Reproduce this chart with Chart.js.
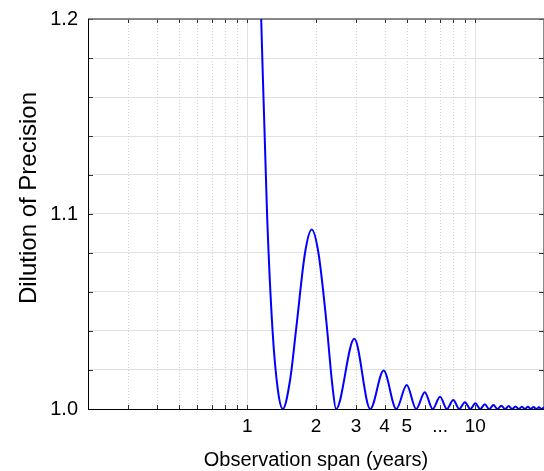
<!DOCTYPE html>
<html lang="en">
<head>
  <meta charset="UTF-8">
  <title>Dilution of Precision</title>
  <script src="https://cdn.jsdelivr.net/npm/chart.js"></script>
  <style>
    body {
      margin: 0;
      background-color: #fff;
    }

    #wrap {
      width: 544px;
      height: 471px;
    }
  </style>
</head>
<body>
  <div id="wrap"><canvas id="dopChart" width="544" height="471"></canvas></div>

  <script>
    // values (peaks and troughs of the curve)
    const spanYears = [
      1.10, 1.15, 1.22, 1.29, 1.36, 1.43, 1.54, 1.64, 1.79, 1.915,
      2.05, 2.22, 2.36, 2.45, 2.945, 3.46, 3.96, 4.50, 5.00, 5.50,
      6.00, 6.50, 7.00, 7.50, 8.00, 8.50, 9.00, 9.50, 10.0, 10.5,
      11.0, 11.5, 12.0, 12.5, 13.0, 13.5, 14.0, 14.5, 15.0, 15.5,
      16.0, 16.5, 17.0, 17.5, 18.0, 18.5, 19.0, 19.5, 20.0
    ];
    const dop = [
      1.280, 1.200, 1.100, 1.040, 1.010, 1.000, 1.015, 1.042, 1.080, 1.092,
      1.080, 1.045, 1.012, 1.000, 1.036, 1.000, 1.0197, 1.000, 1.0123, 1.000,
      1.0086, 1.000, 1.0063, 1.000, 1.0046, 1.000, 1.0035, 1.000, 1.0029, 1.000,
      1.0024, 1.000, 1.0020, 1.000, 1.0017, 1.000, 1.0015, 1.000, 1.0013, 1.000,
      1.0012, 1.000, 1.0011, 1.000, 1.0010, 1.000, 1.0009, 1.000, 1.0008
    ];

    const xTickValues = [0.2, 0.3, 0.4, 0.5, 0.6, 0.7, 0.8, 0.9, 1, 2, 3, 4, 5, 6, 7, 8, 9, 10, 20];
    const xMajorValues = [1, 10];
    const xLabelAt = [1, 2, 3, 4, 5, 7, 10];
    const xLabelText = ['1', '2', '3', '4', '5', '...', '10'];

    const yTickValues = [1.00, 1.02, 1.04, 1.06, 1.08, 1.10, 1.12, 1.14, 1.16, 1.18, 1.20];
    const yLabelAt = [1.0, 1.1, 1.2];
    const yLabelText = ['1.0', '1.1', '1.2'];

    const FONT = '"Liberation Sans", Arial, sans-serif';

    function near(a, b) {
      return Math.abs(a - b) < 1e-6;
    }

    function labelFor(value, at, text) {
      const i = at.findIndex(a => near(a, value));
      return i >= 0 ? text[i] : '';
    }

    // box, inner ticks and dotted minor grid
    const framePlugin = {
      id: 'frame',
      beforeDatasetsDraw(chart) {
        const ctx = chart.ctx;
        const a = chart.chartArea;
        const xs = chart.scales.x;
        const ys = chart.scales.y;
        ctx.save();

        ctx.strokeStyle = '#d4d4d4';
        ctx.lineWidth = 1;
        ctx.setLineDash([1, 2]);
        xTickValues.forEach(v => {
          if (xMajorValues.some(m => near(m, v))) return;
          const px = Math.round(xs.getPixelForValue(v)) + 0.5;
          ctx.beginPath();
          ctx.moveTo(px, a.top);
          ctx.lineTo(px, a.bottom);
          ctx.stroke();
        });
        ctx.setLineDash([]);

        ctx.strokeStyle = '#333';
        ctx.lineWidth = 1;
        xTickValues.forEach(v => {
          const px = Math.round(xs.getPixelForValue(v)) + 0.5;
          ctx.beginPath();
          ctx.moveTo(px, a.top);
          ctx.lineTo(px, a.top + 4);
          ctx.moveTo(px, a.bottom);
          ctx.lineTo(px, a.bottom - 4);
          ctx.stroke();
        });
        yTickValues.forEach(v => {
          const py = Math.round(ys.getPixelForValue(v)) + 0.5;
          ctx.beginPath();
          ctx.moveTo(a.left, py);
          ctx.lineTo(a.left + 5, py);
          ctx.moveTo(a.right, py);
          ctx.lineTo(a.right - 5, py);
          ctx.stroke();
        });

        ctx.strokeStyle = '#666';
        ctx.lineWidth = 1.5;
        ctx.beginPath();
        ctx.moveTo(a.left, a.top);
        ctx.lineTo(a.right, a.top);
        ctx.lineTo(a.right, a.bottom);
        ctx.stroke();

        ctx.strokeStyle = '#000';
        ctx.lineWidth = 1;
        ctx.beginPath();
        ctx.moveTo(a.left + 0.5, a.top);
        ctx.lineTo(a.left + 0.5, a.bottom + 0.5);
        ctx.lineTo(a.right, a.bottom + 0.5);
        ctx.stroke();
        ctx.restore();
      },
      afterDraw(chart) {
        const ctx = chart.ctx;
        const a = chart.chartArea;
        ctx.save();
        ctx.fillStyle = '#000';
        ctx.textAlign = 'center';
        ctx.textBaseline = 'alphabetic';
        ctx.font = '20px ' + FONT;
        ctx.fillText('Observation span (years)', (a.left + a.right) / 2, 466);

        ctx.translate(36, 198);
        ctx.rotate(-Math.PI / 2);
        ctx.font = '24px ' + FONT;
        ctx.fillText('Dilution of Precision', 0, 0);
        ctx.restore();
      }
    };

    const ctx = document.getElementById('dopChart').getContext('2d');
    new Chart(ctx, {
      type: 'line',
      data: {
        datasets: [{
          data: spanYears.map((x, i) => ({ x: x, y: dop[i] })),
          borderColor: '#0000ff',
          borderWidth: 2,
          pointRadius: 0,
          fill: false,
          cubicInterpolationMode: 'monotone'
        }]
      },
      options: {
        responsive: false,
        animation: false,
        devicePixelRatio: 1,
        layout: { padding: { top: 19, right: 0, left: 0, bottom: 0 } },
        plugins: {
          legend: { display: false },
          tooltip: { enabled: false }
        },
        scales: {
          x: {
            type: 'logarithmic',
            min: 0.2,
            max: 20,
            afterBuildTicks: scale => {
              scale.ticks = xTickValues.map(v => ({ value: v }));
            },
            afterFit: scale => {
              scale.height = 62;
              scale.paddingLeft = 0;
              scale.paddingRight = 0;
            },
            ticks: {
              autoSkip: false,
              maxRotation: 0,
              padding: 6,
              color: '#000',
              font: { family: FONT, size: 19 },
              callback: value => labelFor(value, xLabelAt, xLabelText)
            },
            grid: {
              drawTicks: false,
              color: c => (c.tick && xMajorValues.some(m => near(m, c.tick.value))) ? '#e2e2e2' : 'rgba(0,0,0,0)',
              lineWidth: 1
            },
            border: { display: false }
          },
          y: {
            type: 'linear',
            min: 1.0,
            max: 1.2,
            afterBuildTicks: scale => {
              scale.ticks = yTickValues.map(v => ({ value: v }));
            },
            afterFit: scale => {
              scale.width = 88;
              scale.paddingTop = 0;
              scale.paddingBottom = 0;
            },
            ticks: {
              autoSkip: false,
              padding: 10,
              color: '#000',
              font: { family: FONT, size: 20 },
              callback: value => labelFor(value, yLabelAt, yLabelText)
            },
            grid: {
              drawTicks: false,
              color: '#e2e2e2',
              lineWidth: 1
            },
            border: { display: false }
          }
        }
      },
      plugins: [framePlugin]
    });
  </script>
</body>
</html>
